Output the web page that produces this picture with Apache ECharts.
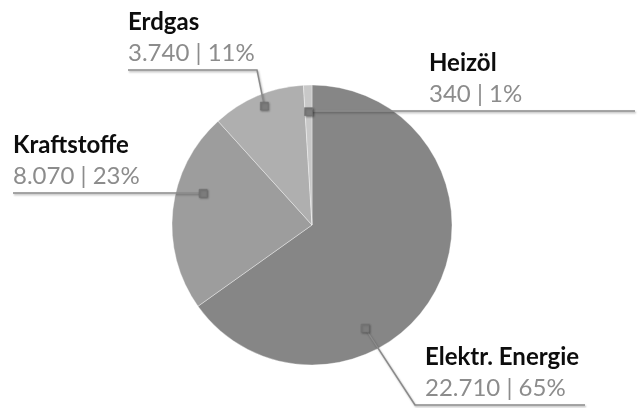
<!DOCTYPE html>
<html>
<head>
<meta charset="utf-8">
<script src="https://cdn.jsdelivr.net/npm/echarts@6/dist/echarts.min.js"></script>
<style>
    html, body {margin: 0; padding: 0; background: #fff;}
    #main {width: 641px; height: 408px;}
</style>
</head>
<body>
<div id="main"></div>
<script>
//数据
var names = ['Elektr. Energie', 'Kraftstoffe', 'Erdgas', 'Heizöl'];
var values = [22710, 8070, 3740, 340];
var colors = ['#868686', '#9d9d9d', '#afafaf', '#c8c8c8'];

//饼图位置
var center = [312, 225];
var radius = 140;

//标签摆放: 文字左边, 下划线y, 拐点x(null = 标记点x), 线终点x, 标记点角度偏移, 半径比例
var labelPos = [
    {textX: 425, lineY: 405, bendX: 415, endX: 585, angleShift: 35.5, rFrac: 0.83},
    {textX: 13, lineY: 193, bendX: null, endX: 13, angleShift: 10, rFrac: 0.81},
    {textX: 128, lineY: 70, bendX: 257, endX: 128, angleShift: 1, rFrac: 0.915},
    {textX: 429, lineY: 111, bendX: null, endX: 635, angleShift: 0, rFrac: 0.81}
];

function fmt(v) {
    return String(v).replace(/\B(?=(\d{3})+(?!\d))/g, '.');
}

var total = values.reduce(function (a, b) { return a + b; }, 0);

//计算每个扇区上标记点的位置
function markerPoint(i) {
    var before = 0;
    for (var k = 0; k < i; k++) before += values[k];
    var mid = (before + values[i] / 2) / total * 360 + labelPos[i].angleShift;
    var rad = mid * Math.PI / 180;
    var r = radius * labelPos[i].rFrac;
    return [center[0] + Math.sin(rad) * r, center[1] - Math.cos(rad) * r];
}

var lineStyle = {
    stroke: '#8a8a8a',
    lineWidth: 1.5,
    fill: null,
    shadowBlur: 2,
    shadowOffsetX: 1,
    shadowOffsetY: 1.5,
    shadowColor: 'rgba(0,0,0,0.3)'
};

var pieData = [];
var guides = [];
for (var i = 0; i < names.length; i++) {
    pieData.push({value: values[i], name: names[i], itemStyle: {color: colors[i]}});
    var p = labelPos[i];
    var m = markerPoint(i);
    var bx = p.bendX == null ? m[0] : p.bendX;
    //引导线
    guides.push({
        type: 'polyline',
        z: 100,
        shape: {points: [[m[0], m[1]], [bx, p.lineY], [p.endX, p.lineY]]},
        style: lineStyle
    });
    //小方块标记
    guides.push({
        type: 'rect',
        z: 101,
        shape: {x: m[0] - 4, y: m[1] - 4, width: 8, height: 8},
        style: {
            fill: '#7c7c7c',
            stroke: '#6e6e6e',
            lineWidth: 0.5,
            shadowBlur: 2,
            shadowOffsetX: 1,
            shadowOffsetY: 1,
            shadowColor: 'rgba(0,0,0,0.35)'
        }
    });
}

var myChart = echarts.init(document.getElementById('main'));
var option = {
    backgroundColor: '#fff',
    animation: false,
    graphic: guides,
    series: [
        {
            type: 'pie',
            center: center,
            radius: radius,
            startAngle: 90,
            clockwise: true,
            percentPrecision: 0,
            avoidLabelOverlap: false,
            data: pieData,
            itemStyle: {
                borderColor: 'rgba(255,255,255,0.45)',
                borderWidth: 0.8
            },
            emphasis: {disabled: true},
            label: {
                show: true,
                position: 'outside',
                formatter: function (p) {
                    return '{n|' + p.name + '}\n{v|' + fmt(p.value) + ' | ' + p.percent + '%}';
                },
                rich: {
                    n: {fontFamily: 'Lato', fontWeight: 'bold', fontSize: 24, color: '#0d0d0d', lineHeight: 31},
                    v: {fontFamily: 'Lato', fontSize: 24, color: '#8c8c8c', lineHeight: 31}
                }
            },
            labelLine: {show: false},
            labelLayout: function (params) {
                var p = labelPos[params.dataIndex];
                return {
                    x: p.textX,
                    y: p.lineY - 1.5,
                    align: 'left',
                    verticalAlign: 'bottom'
                };
            }
        }
    ]
};
myChart.setOption(option);
</script>
</body>
</html>
